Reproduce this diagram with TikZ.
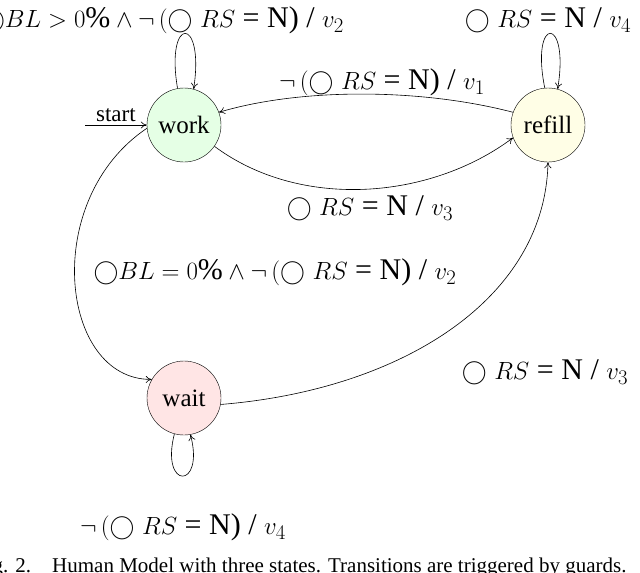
\documentclass[tikz,border=0pt]{standalone}
\usepackage{fontspec}
\setmainfont{Liberation Serif}
\usetikzlibrary{arrows.meta}
\begin{document}
\begin{tikzpicture}[x=1pt,y=-1pt,
  st/.style={circle,draw,minimum size=74pt,inner sep=0pt,font=\fontsize{25}{28}\selectfont},
  lbl/.style={font=\fontsize{30}{34}\selectfont,inner sep=0pt},
  tr/.style={draw,-{To[length=6pt,width=7pt]},line width=0.6pt}]
\useasboundingbox (0,0) rectangle (640,573);
\node[st,fill=green!10] (work) at (184,125) {work};
\node[st,fill=yellow!10] (refill) at (548,125) {refill};
\node[st,fill=red!10] (wait) at (184,398) {wait};
\coordinate (s) at (85,125);
\draw[tr] (s) -- node[font=\fontsize{23}{26}\selectfont,above=3pt,inner sep=0pt]{start} (work.west);
\draw[tr] (work.100) .. controls (165,15) and (205,15) .. (work.75);
\node[lbl] (l1) at (162,20) {$\bigcirc BL>0\%\wedge\neg\,(\bigcirc\ RS$ = N) / $v_2$};
\draw[tr] (refill.95) .. controls (530,15) and (570,15) .. (refill.75);
\node[lbl] (l2) at (548,20) {$\bigcirc\ RS$ = N / $v_4$};
\draw[tr] (refill.160) .. controls (420,88) and (300,88) .. (work.20);
\node[lbl] (l3) at (382,82) {$\neg\,(\bigcirc\ RS$ = N) / $v_1$};
\draw[tr] (work.-35) .. controls (300,210) and (430,200) .. (refill.-160);
\node[lbl] (l4) at (370,208) {$\bigcirc\ RS$ = N / $v_3$};
\draw[tr] (work.-175) .. controls (40,200) and (60,380) .. (wait.150);
\node[lbl] (l5) at (275,272) {$\bigcirc BL=0\%\wedge\neg\,(\bigcirc\ RS$ = N) / $v_2$};
\draw[tr] (wait.-10) .. controls (400,390) and (545,300) .. (refill.-90);
\node[lbl] (l6) at (545,372) {$\bigcirc\ RS$ = N / $v_3$};
\draw[tr] (wait.-105) .. controls (160,490) and (205,490) .. (wait.-80);
\node[lbl] (l7) at (183,527) {$\neg\,(\bigcirc\ RS$ = N) / $v_4$};
\node[font=\fontsize{21}{24}\selectfont,anchor=base west,inner sep=0pt] (cap) at (-25,572) {Fig. 2.\quad Human Model with three states. Transitions are triggered by guards.};
\end{tikzpicture}
\end{document}
